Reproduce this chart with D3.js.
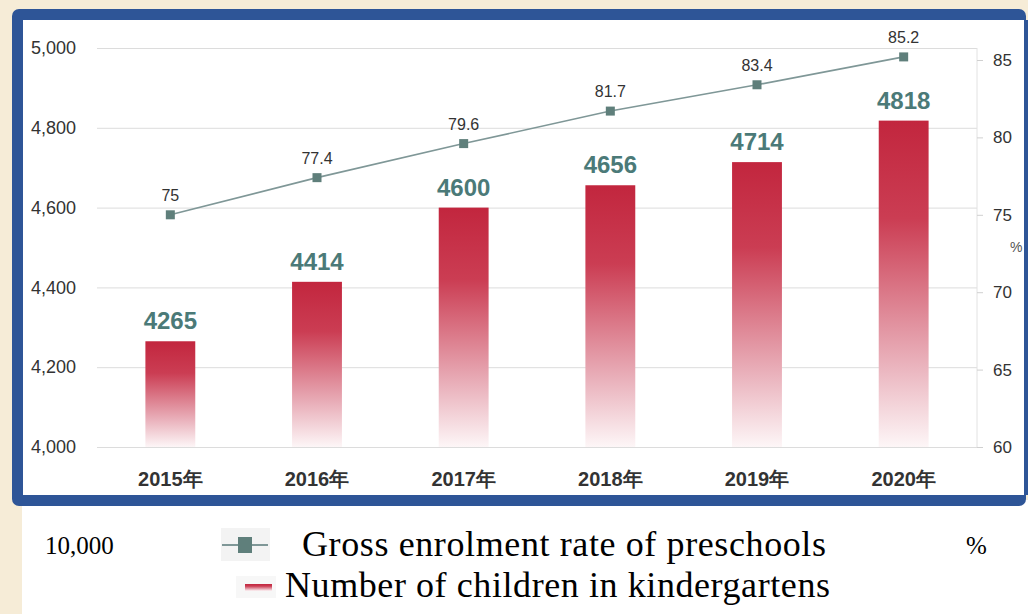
<!DOCTYPE html>
<html lang="en">
<head>
<meta charset="UTF-8">
<title>Kindergarten children and gross enrolment rate</title>
<style>
  body { margin: 0; background: #f6ecd7; }
  svg { display: block; }
</style>
<script src="https://cdn.jsdelivr.net/npm/d3@7"></script>
</head>
<body>
<svg width="1028" height="614"></svg>
<script>
var years = ["2015年", "2016年", "2017年", "2018年", "2019年", "2020年"];
var children = [4265, 4414, 4600, 4656, 4714, 4818];   // 10,000 persons
var rate = [75, 77.4, 79.6, 81.7, 83.4, 85.2];          // %
var leftTicks = [4000, 4200, 4400, 4600, 4800, 5000];
var rightTicks = [60, 65, 70, 75, 80, 85];

var svg = d3.select("svg");

// page + frame
svg.append("rect").attr("x", 22).attr("y", 500).attr("width", 1006).attr("height", 114).attr("fill", "#fff");
svg.append("rect").attr("x", 12).attr("y", 9).attr("width", 1014).attr("height", 497)
  .attr("rx", 7).attr("fill", "#2e5597");
svg.append("rect").attr("x", 23).attr("y", 20).attr("width", 1001).attr("height", 475).attr("fill", "#fff");

var x = d3.scaleBand().domain(years).range([97, 977]).paddingInner(0.66).paddingOuter(0.33);
var yL = d3.scaleLinear().domain([4000, 5000]).range([447, 48]);
var yR = d3.scaleLinear().domain([60, 85]).range([447, 60]);

var defs = svg.append("defs");
var grad = defs.append("linearGradient").attr("id", "barGrad")
  .attr("x1", 0).attr("y1", 0).attr("x2", 0).attr("y2", 1);
grad.append("stop").attr("offset", 0).attr("stop-color", "#c2263e");
grad.append("stop").attr("offset", 0.3).attr("stop-color", "#cb3d53");
grad.append("stop").attr("offset", 0.75).attr("stop-color", "#eab3bd");
grad.append("stop").attr("offset", 1).attr("stop-color", "#fdf6f7");

// gridlines + left axis
var gl = svg.append("g")
  .call(d3.axisLeft(yL).tickValues(leftTicks).tickSize(-880).tickFormat(d3.format(",")))
  .attr("transform", "translate(97,0)");
gl.select(".domain").remove();
gl.selectAll(".tick line").attr("stroke", "#dcdcdc");
gl.selectAll(".tick text").attr("x", -21).attr("fill", "#333")
  .style("font", "18px 'Liberation Sans', Arial, sans-serif");

// right axis
var gr = svg.append("g").attr("transform", "translate(977,0)")
  .call(d3.axisRight(yR).tickValues(rightTicks).tickSize(6));
gr.select(".domain").attr("stroke", "#e2e2e2").attr("d", "M0,48V447");
gr.selectAll(".tick line").attr("stroke", "#d0d0d0");
gr.selectAll(".tick text").attr("x", 16).attr("fill", "#333")
  .style("font", "17px 'Liberation Sans', Arial, sans-serif");

// x labels
svg.append("g").selectAll("text").data(years).join("text")
  .attr("x", function(d) { return x(d) + x.bandwidth() / 2; })
  .attr("y", 486).attr("text-anchor", "middle").attr("fill", "#333")
  .style("font", "bold 20px 'Liberation Sans', Arial, sans-serif")
  .text(function(d) { return d; });

// bars
svg.append("g").selectAll("rect").data(children).join("rect")
  .attr("x", function(d, i) { return x(years[i]); })
  .attr("y", function(d) { return yL(d); })
  .attr("width", x.bandwidth())
  .attr("height", function(d) { return yL(4000) - yL(d); })
  .attr("fill", "url(#barGrad)");

svg.append("g").selectAll("text").data(children).join("text")
  .attr("x", function(d, i) { return x(years[i]) + x.bandwidth() / 2; })
  .attr("y", function(d) { return yL(d) - 12; })
  .attr("text-anchor", "middle").attr("fill", "#4b7a78")
  .style("font", "bold 24px 'Liberation Sans Narrow', 'Liberation Sans', Arial, sans-serif")
  .text(function(d) { return d; });

// line
var line = d3.line()
  .x(function(d, i) { return x(years[i]) + x.bandwidth() / 2; })
  .y(function(d) { return yR(d); });
svg.append("path").datum(rate).attr("d", line)
  .attr("fill", "none").attr("stroke", "#7f9797").attr("stroke-width", 1.6);
svg.append("g").selectAll("rect").data(rate).join("rect")
  .attr("x", function(d, i) { return x(years[i]) + x.bandwidth() / 2 - 4.5; })
  .attr("y", function(d) { return yR(d) - 4.5; })
  .attr("width", 9).attr("height", 9).attr("fill", "#5f7f7b");
svg.append("g").selectAll("text").data(rate).join("text")
  .attr("x", function(d, i) { return x(years[i]) + x.bandwidth() / 2; })
  .attr("y", function(d) { return yR(d) - 14; })
  .attr("text-anchor", "middle").attr("fill", "#333")
  .style("font", "16px 'Liberation Sans', Arial, sans-serif")
  .text(function(d) { return d; });

// "%" unit next to the right frame edge
svg.append("rect").attr("x", 1024).attr("y", 20).attr("width", 4).attr("height", 475).attr("fill", "#2e5597");
svg.append("text").attr("x", 1010).attr("y", 252).attr("fill", "#555")
  .style("font", "14px 'Liberation Sans', Arial, sans-serif").text("%");

// legend below the frame
var serif = "'Liberation Serif', 'Times New Roman', serif";
svg.append("text").attr("x", 45).attr("y", 554).style("font", "25px " + serif).text("10,000");
svg.append("text").attr("x", 966).attr("y", 554).style("font", "25px " + serif).text("%");

var lg = svg.append("g");
lg.append("rect").attr("x", 221).attr("y", 528).attr("width", 49).attr("height", 33).attr("fill", "#f3f3f3");
lg.append("line").attr("x1", 222).attr("x2", 268).attr("y1", 545).attr("y2", 545)
  .attr("stroke", "#7f9797").attr("stroke-width", 2);
lg.append("rect").attr("x", 238).attr("y", 537).attr("width", 14).attr("height", 16).attr("fill", "#5f7f7b");
lg.append("text").attr("x", 302).attr("y", 556).attr("textLength", 524)
  .style("font", "36px " + serif)
  .text("Gross enrolment rate of preschools");

lg.append("rect").attr("x", 236).attr("y", 576).attr("width", 40).attr("height", 22).attr("fill", "#f7f7f7");
lg.append("rect").attr("x", 245).attr("y", 584).attr("width", 27).attr("height", 7).attr("fill", "url(#barGrad)");
lg.append("text").attr("x", 285).attr("y", 597).attr("textLength", 545)
  .style("font", "36px " + serif)
  .text("Number of children in kindergartens");
</script>
</body>
</html>
